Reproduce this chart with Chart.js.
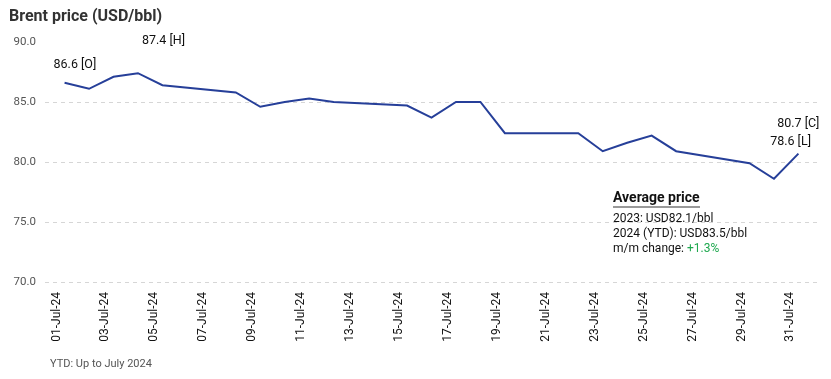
<!DOCTYPE html>
<html>
<head>
<meta charset="utf-8">
<script src="https://cdn.jsdelivr.net/npm/chart.js@4/dist/chart.umd.min.js"></script>
<style>
  html, body { margin: 0; padding: 0; background: #fff; }
  body { width: 831px; height: 379px; position: relative; overflow: hidden; font-family: Roboto, sans-serif; }
  #wrap { position: absolute; left: 0; top: 0; width: 831px; height: 379px; }
  .title { position: absolute; left: 9px; top: 6px; font-size: 16px; font-weight: 700; color: #333; }
  .note { position: absolute; left: 50px; top: 357px; font-size: 11px; color: #555; }
  .avg { position: absolute; left: 613px; top: 189px; font-size: 12px; color: #111; line-height: 15px; }
  .avg .hd { font-size: 14px; font-weight: 700; display: inline-block; border-bottom: 2px solid #999; line-height: 17px; margin-bottom: 3px; }
  .avg .up { color: #1fa84f; }
</style>
</head>
<body>
<div id="wrap"><canvas id="brentChart" width="831" height="379"></canvas></div>
<div class="title">Brent price (USD/bbl)</div>
<div class="avg">
  <div class="hd">Average price</div>
  <div>2023: USD82.1/bbl</div>
  <div>2024 (YTD): USD83.5/bbl</div>
  <div>m/m change: <span class="up">+1.3%</span></div>
</div>
<div class="note">YTD: Up to July 2024</div>

<script>
// trading days in July 2024 and Brent closes
const days   = [1, 2, 3, 4, 5, 8, 9, 10, 11, 12, 15, 16, 17, 18, 19, 22, 23, 24, 25, 26, 29, 30, 31];
const prices = [86.6, 86.1, 87.1, 87.4, 86.4, 85.8, 84.6, 85.0, 85.3, 85.0, 84.7, 83.7, 85.0, 85.0,
                82.4, 82.4, 80.9, 81.6, 82.2, 80.9, 79.9, 78.6, 80.7];

const tickDays   = [1, 3, 5, 7, 9, 11, 13, 15, 17, 19, 21, 23, 25, 27, 29, 31];
const tickLabels = ['01-Jul-24', '03-Jul-24', '05-Jul-24', '07-Jul-24', '09-Jul-24', '11-Jul-24',
                    '13-Jul-24', '15-Jul-24', '17-Jul-24', '19-Jul-24', '21-Jul-24', '23-Jul-24',
                    '25-Jul-24', '27-Jul-24', '29-Jul-24', '31-Jul-24'];
const yTicks = [70, 75, 80, 85, 90];

// open / high / low / close markers
const markIdx  = [0, 3, 21, 22];
const markTags = ['O', 'H', 'L', 'C'];
const markPos  = [ // dx, dy, align
  { dx: -11, dy: -18, align: 'left' },
  { dx: 4,   dy: -32, align: 'left' },
  { dx: 37,  dy: -37, align: 'right' },
  { dx: 21,  dy: -30, align: 'right' }
];

const markLabels = {
  id: 'markLabels',
  afterDatasetsDraw(chart) {
    const { ctx, scales: { x, y } } = chart;
    ctx.save();
    ctx.font = '12.5px Roboto, sans-serif';
    ctx.fillStyle = '#111';
    ctx.textBaseline = 'middle';
    markIdx.forEach((idx, i) => {
      const px = x.getPixelForValue(days[idx]);
      const py = y.getPixelForValue(prices[idx]);
      const p = markPos[i];
      ctx.textAlign = p.align;
      ctx.fillText(prices[idx].toFixed(1) + ' [' + markTags[i] + ']', px + p.dx, py + p.dy);
    });
    ctx.restore();
  }
};

new Chart(document.getElementById('brentChart'), {
  type: 'line',
  data: {
    datasets: [{
      label: 'Brent',
      data: days.map((d, i) => ({ x: d, y: prices[i] })),
      borderColor: '#263f99',
      borderWidth: 2,
      pointRadius: 0,
      tension: 0,
      fill: false
    }]
  },
  options: {
    responsive: false,
    animation: false,
    layout: { padding: { top: 42, right: 13, left: 0, bottom: 0 } },
    plugins: { legend: { display: false }, tooltip: { enabled: false } },
    scales: {
      x: {
        type: 'linear',
        min: 0.2,
        max: 31.8,
        afterBuildTicks: s => { s.ticks = tickDays.map(v => ({ value: v })); },
        afterFit: s => { s.height = 97; },
        grid: { display: false },
        border: { display: false },
        ticks: {
          autoSkip: false,
          minRotation: 90,
          maxRotation: 90,
          padding: 2,
          labelOffset: -8,
          color: '#111',
          font: { size: 12, family: 'Roboto' },
          callback: v => tickLabels[tickDays.indexOf(v)]
        }
      },
      y: {
        min: 70,
        max: 90,
        afterBuildTicks: s => { s.ticks = yTicks.map(v => ({ value: v })); },
        afterFit: s => { s.width = 45; },
        border: { display: false, dash: [4, 4] },
        grid: {
          drawTicks: false,
          color: ctx => ctx.tick && ctx.tick.value === 90 ? 'rgba(0,0,0,0)' : '#d6d6d6'
        },
        ticks: {
          padding: 9,
          color: '#555',
          font: { size: 11.5, family: 'Roboto' },
          callback: v => v.toFixed(1)
        }
      }
    }
  },
  plugins: [markLabels]
});
</script>
</body>
</html>
